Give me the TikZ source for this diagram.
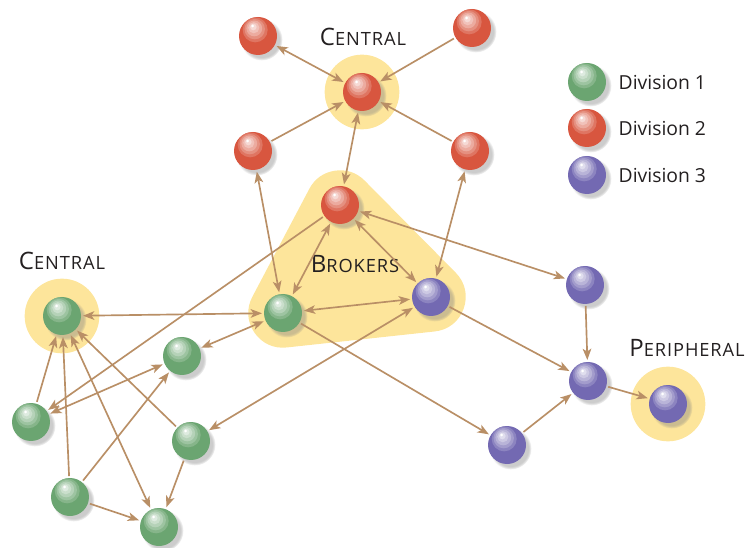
\documentclass[tikz,border=0pt]{standalone}
\usepackage{fontspec}
\setmainfont{Open Sans}
\usetikzlibrary{arrows.meta,shadows}

\definecolor{divone}{HTML}{6BA571}
\definecolor{divtwo}{HTML}{D8563F}
\definecolor{divthree}{HTML}{7369B2}
\definecolor{glow}{HTML}{FDE59B}
\definecolor{linkc}{HTML}{B98F66}
\definecolor{ink}{HTML}{231F20}

\pgfdeclarelayer{background}
\pgfsetlayers{background,main}

% big first letter, rest as small capitals
\newcommand\capsword[2]{{\fontsize{18}{20}\selectfont #1}{\fontsize{13.7}{16}\selectfont #2}}

\tikzset{
  ball/.style={circle,minimum size=28.5pt,inner sep=0pt,outer sep=1.5pt,fill=#1,
    circular drop shadow={shadow xshift=2.5pt,shadow yshift=-2.5pt,opacity=0.4},
    path picture={
      \foreach \r/\p [evaluate=\r as \cx using 0.75*(-5.3+0.2*\r),
                      evaluate=\r as \cy using 0.75*(10-0.308*\r)] in {12.5/82,10.2/66,7.9/50,5.6/36,3.3/22}
        \fill[#1!\p!white] ([shift={(\cx pt,\cy pt)}]path picture bounding box.center) circle (0.75*\r pt);
      \fill[white] ([shift={(-4pt,7.5pt)}]path picture bounding box.center) circle (1.1pt);
    }},
  link/.style={draw=linkc,line width=1.25pt},
  tag/.style={text=ink,font=\addfontfeature{LetterSpace=5}},
  key/.style={text=ink,anchor=west,font=\fontsize{14.5}{17}\selectfont},
  >={Stealth[length=8.5pt,width=6.5pt,inset=2.2pt]}
}

\begin{document}
\begin{tikzpicture}[x=0.75pt,y=-0.75pt]
\useasboundingbox (0,0) rectangle (752,548);

% division 2
\node[ball=divtwo] (rA) at (258,36) {};
\node[ball=divtwo] (rB) at (472,28) {};
\node[ball=divtwo] (rCen) at (362,92) {};
\node[ball=divtwo] (rC) at (253,151) {};
\node[ball=divtwo] (rD) at (470,151) {};
\node[ball=divtwo] (rBro) at (340,205) {};

% division 1
\node[ball=divone] (gCen) at (62,316) {};
\node[ball=divone] (gBro) at (283,313) {};
\node[ball=divone] (g1) at (182,356) {};
\node[ball=divone] (g2) at (31,422) {};
\node[ball=divone] (g3) at (191,441) {};
\node[ball=divone] (g4) at (70,497) {};
\node[ball=divone] (g5) at (159,527) {};

% division 3
\node[ball=divthree] (pBro) at (431,297) {};
\node[ball=divthree] (p1) at (585,285) {};
\node[ball=divthree] (p2) at (588,381) {};
\node[ball=divthree] (p3) at (507,445) {};
\node[ball=divthree] (pPer) at (668,404) {};

\begin{pgfonlayer}{background}
\fill[glow] (rCen.center) circle (28pt);
\fill[glow] (gCen.center) circle (28pt);
\fill[glow] (pPer.center) circle (28pt);
\filldraw[glow,line width=52pt,line join=round] (rBro.center) -- (gBro.center) -- (pBro.center) -- cycle;
\end{pgfonlayer}

\node[tag] (topcentral) at (363,37) {\capsword{C}{ENTRAL}};
\node[tag] (leftcentral) at (62,261) {\capsword{C}{ENTRAL}};
\node[tag] (brokers) at (355,264) {\capsword{B}{ROKERS}};
\node[tag] (peripheral) at (687,348) {\capsword{P}{ERIPHERAL}};

% legend
\node[ball=divone] (key1) at (587,82) {};
\node[ball=divtwo] (key2) at (587,128) {};
\node[ball=divthree] (key3) at (587,175) {};
\node[key] (key1txt) at (614,83) {Division 1};
\node[key] (key2txt) at (614,129) {Division 2};
\node[key] (key3txt) at (614,176) {Division 3};

\draw[link,<->] (rCen) -- (rA);
\draw[link,->] (rB) -- (rCen);
\draw[link,->] (rC) -- (rCen);
\draw[link,->] (rD) -- (rCen);
\draw[link,<->] (rCen) -- (rBro);
\draw[link,<->] (rC) -- (gBro);
\draw[link,<->] (rD) -- (pBro);
\draw[link,<->] (rBro) -- (gBro);
\draw[link,<->] (rBro) -- (pBro);
\draw[link,<->] (rBro) -- (p1);
\draw[link,->] (rBro) -- (g2);
\draw[link,<->] (gBro) -- (gCen);
\draw[link,<->] (gBro) -- (g1);
\draw[link,<->] (gBro) -- (pBro);
\draw[link,->] (gBro) -- (p3);
\draw[link,<->] (pBro) -- (g3);
\draw[link,->] (pBro) -- (p2);
\draw[link,->] (p1) -- (p2);
\draw[link,->] (p3) -- (p2);
\draw[link,->] (p2) -- (pPer);
\draw[link,->] (g2) -- (gCen);
\draw[link,->] (g4) -- (gCen);
\draw[link,<->] (gCen) -- (g5);
\draw[link,->] (g3) -- (gCen);
\draw[link,->] (g3) -- (g5);
\draw[link,->] (g4) -- (g5);
\draw[link,->] (g4) -- (g1);
\draw[link,<->] (g1) -- (g2);
\end{tikzpicture}
\end{document}
